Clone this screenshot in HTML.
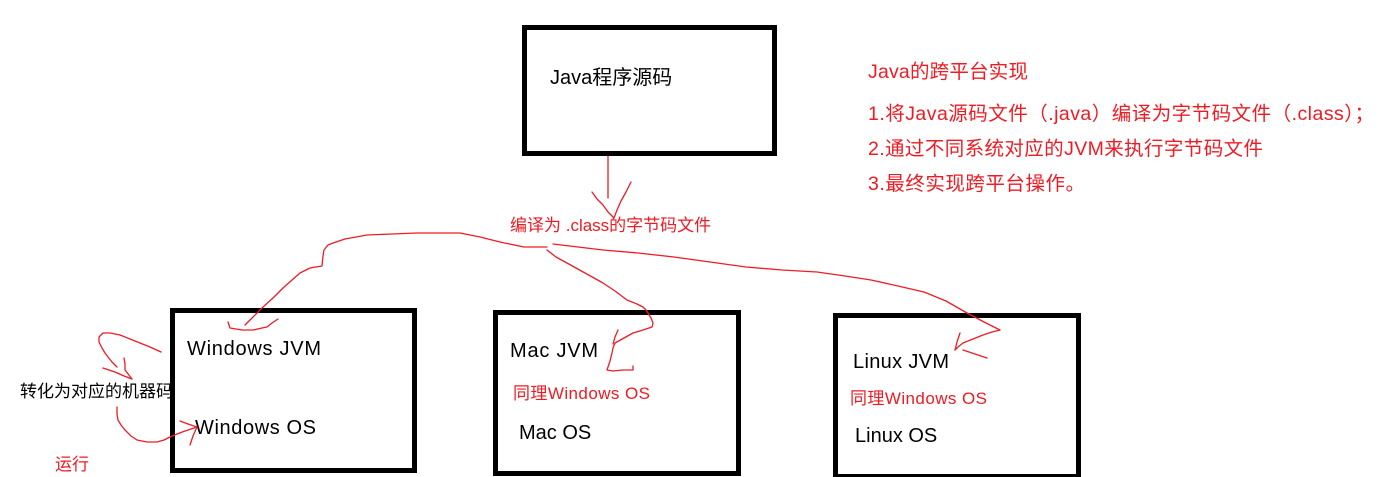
<!DOCTYPE html>
<html>
<head>
<meta charset="utf-8">
<style>
html,body{margin:0;padding:0;background:#fff;}
body{width:1384px;height:477px;overflow:hidden;}
svg{display:block;}
text{font-family:"Liberation Sans","Noto Sans CJK SC",sans-serif;}
.b{fill:#000;font-size:20px;}
.r{fill:#f01a22;}
.ln{fill:none;stroke:#ee1c24;stroke-width:1.3;stroke-linejoin:round;stroke-linecap:round;}
.box{fill:none;stroke:#000;stroke-width:5;}
</style>
</head>
<body>
<svg width="1384" height="477" viewBox="0 0 1384 477" xmlns="http://www.w3.org/2000/svg">
  <!-- boxes -->
  <rect class="box" x="524.5" y="27.5" width="250" height="126"/>
  <rect class="box" x="172.5" y="310.5" width="242" height="160"/>
  <rect class="box" x="495.5" y="312.5" width="243" height="161"/>
  <rect class="box" x="835.5" y="315.5" width="243" height="161"/>

  <!-- black texts -->
  <text class="b" x="550" y="84">Java程序源码</text>
  <text class="b" x="187" y="355" textLength="134" lengthAdjust="spacing">Windows JVM</text>
  <text class="b" x="195" y="434" textLength="121" lengthAdjust="spacing">Windows OS</text>
  <text class="b" x="510" y="357" textLength="88" lengthAdjust="spacing">Mac JVM</text>
  <text class="b" x="519" y="439">Mac OS</text>
  <text class="b" x="853" y="368" textLength="96" lengthAdjust="spacing">Linux JVM</text>
  <text class="b" x="855" y="442">Linux OS</text>
  <text x="20" y="397" style="fill:#000;font-size:17px;">转化为对应的机器码</text>

  <!-- red texts -->
  <text class="r" x="513" y="399" style="font-size:17px;" textLength="137" lengthAdjust="spacing">同理Windows OS</text>
  <text class="r" x="850" y="404" style="font-size:17px;" textLength="137" lengthAdjust="spacing">同理Windows OS</text>
  <text class="r" x="55" y="470" style="font-size:17px;">运行</text>
  <text class="r" x="510" y="231" style="font-size:17px;">编译为 .class的字节码文件</text>

  <text class="r" x="868" y="78" style="font-size:19.5px;" textLength="160" lengthAdjust="spacing">Java的跨平台实现</text>
  <text class="r" x="868" y="120" style="font-size:19.5px;" textLength="506" lengthAdjust="spacing">1.将Java源码文件（.java）编译为字节码文件（.class）；</text>
  <text class="r" x="868" y="155" style="font-size:19.5px;" textLength="395" lengthAdjust="spacing">2.通过不同系统对应的JVM来执行字节码文件</text>
  <text class="r" x="868" y="190" style="font-size:19.5px;" textLength="217" lengthAdjust="spacing">3.最终实现跨平台操作。</text>

  <!-- red connectors -->
  <polyline class="ln" points="608,156 608,198"/>
  <polyline class="ln" points="592,192 597,199 603,205 608,212 614,218 617,210 621,201 626,192 631,182"/>

  <!-- main curve to Windows -->
  <polyline class="ln" points="547,247 524,247 500,242 480,237 460,233 440,233 417,233 392,234 367,235 345,239 333,243 328,245 324,250 323,256 322,266 316,267 310,268 300,273 292,280 283,288 273,298 263,307 253,317 245,325"/>
  <polyline class="ln" points="228,322 230,328 242,330 253,330 262,328 267,327 272,323 278,319"/>

  <!-- Mac branch -->
  <polyline class="ln" points="547,250 556,257 567,263 585,273 603,283 615,291 627,300 637,304 643,307 646,310 648,313 651,318 653,323 652,327 643,330 633,333 624,338 615,343 613,348 612,353 610,361 607,370 613,371 623,370 633,370 633,366"/>
  <polyline class="ln" points="618,330 615,337 613,344"/>

  <!-- Linux branch -->
  <polyline class="ln" points="553,244 578,247 603,250 638,253 674,257 710,262 746,267 782,270 817,272 845,276 871,280 898,286 924,292 946,301 967,313 984,322 1000,330"/>
  <polyline class="ln" points="1000,330 992,332 983,335 973,339 963,343 958,347 955,350"/>
  <polyline class="ln" points="960,333 957,342 955,350"/>
  <polyline class="ln" points="963,350 975,354 987,358"/>

  <!-- left loop to 转化为 -->
  <polyline class="ln" points="161,352 150,347 140,343 130,339 120,335 110,333 103,333 99,337 99,342 102,348 105,353 108,357 112,362 117,367"/>
  <polyline class="ln" points="103,368 115,372 124,376 132,379"/>
  <polyline class="ln" points="124,358 125,364 125,370 132,379"/>

  <!-- lower curve to Windows OS -->
  <polyline class="ln" points="117,407 117,414 118,420 121,425 125,430 131,436 137,440 147,442 157,442 164,440 170,437 177,434 185,431 191,429 197,427"/>
  <polyline class="ln" points="180,421 188,424 197,427"/>
  <polyline class="ln" points="190,445 193,436 197,427"/>
</svg>
</body>
</html>
